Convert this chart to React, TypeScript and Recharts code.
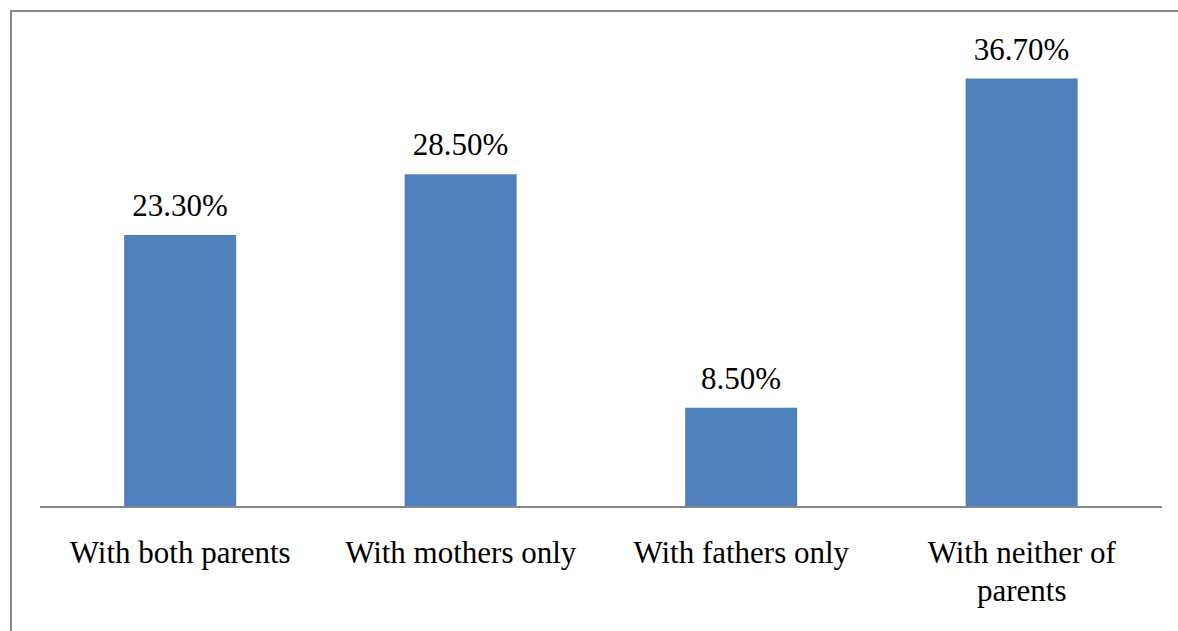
import React from 'react';
import { BarChart, Bar, XAxis, YAxis, LabelList } from 'recharts';

const categories = ['With both parents', 'With mothers only', 'With fathers only', 'With neither of parents'];
const shares = [23.3, 28.5, 8.5, 36.7];

const data = categories.map((name, i) => ({ name, value: shares[i] }));

const FONT = "'Times New Roman', 'Liberation Serif', 'DejaVu Serif', serif";

const wrapWords = (label: string, maxChars: number) => {
  const words = label.split(' ');
  const lines: string[] = [];
  let cur = '';
  words.forEach((w) => {
    const next = cur ? cur + ' ' + w : w;
    if (next.length > maxChars && cur) {
      lines.push(cur);
      cur = w;
    } else {
      cur = next;
    }
  });
  if (cur) lines.push(cur);
  return lines;
};

const CategoryTick = (props: any) => {
  const { x, y, payload } = props;
  const lines = wrapWords(String(payload.value), 18);
  return (
    <text
      x={x}
      y={y + 56}
      textAnchor="middle"
      fontFamily={FONT}
      fontSize={31}
      fill="#000"
    >
      {lines.map((l, i) => (
        <tspan key={i} x={x} dy={i === 0 ? 0 : 38}>
          {l}
        </tspan>
      ))}
    </text>
  );
};

const ValueLabel = (props: any) => {
  const { x, y, width, value } = props;
  return (
    <text
      x={x + width / 2}
      y={y - 19}
      textAnchor="middle"
      fontFamily={FONT}
      fontSize={31}
      fill="#000"
    >
      {`${Number(value).toFixed(2)}%`}
    </text>
  );
};

export default function App() {
  return (
    <div style={{ position: 'absolute', left: 0, top: 0, width: 1178, height: 631, background: '#fff', overflow: 'hidden' }}>
      <div
        style={{
          position: 'absolute',
          left: 10,
          top: 10,
          width: 1200,
          height: 700,
          borderTop: '2px solid #878787',
          borderLeft: '2px solid #878787',
        }}
      />
      <div style={{ position: 'absolute', left: 0, top: 0 }}>
        <BarChart
          width={1178}
          height={631}
          data={data}
          margin={{ top: 40, right: 16, left: 40, bottom: 24 }}
          barCategoryGap="30%"
        >
          <XAxis
            dataKey="name"
            axisLine={{ stroke: '#878787', strokeWidth: 2 }}
            tickLine={false}
            tickSize={0}
            tickMargin={0}
            height={100}
            interval={0}
            tick={<CategoryTick />}
          />
          <YAxis hide domain={[0, 40]} />
          <Bar dataKey="value" fill="#4F81BD" isAnimationActive={false}>
            <LabelList dataKey="value" content={<ValueLabel />} />
          </Bar>
        </BarChart>
      </div>
    </div>
  );
}
